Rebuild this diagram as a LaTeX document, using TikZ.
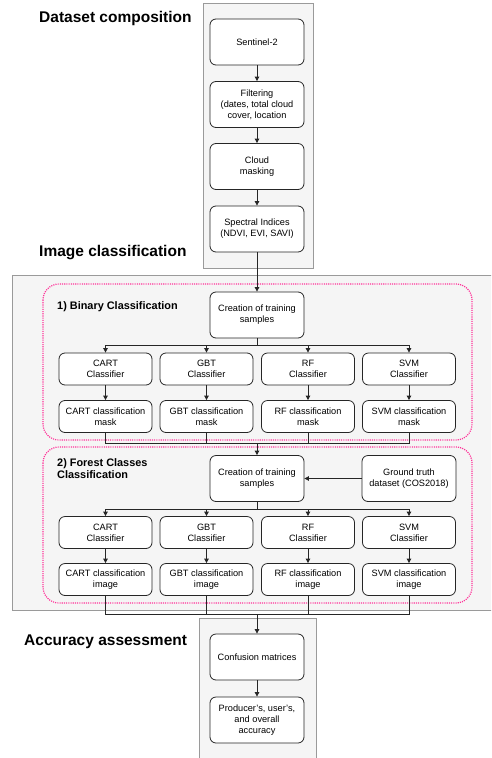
\documentclass[tikz,border=0pt]{standalone}
\usepackage{fontspec}
\setmainfont{Liberation Sans}
\usetikzlibrary{arrows.meta}
\definecolor{pinkdot}{HTML}{FF3399}
\definecolor{greyfill}{HTML}{F5F5F5}
\definecolor{greyline}{HTML}{9A9A9A}
\begin{document}
\begin{tikzpicture}[x=1pt,y=-1pt,
  proc/.style={draw=black!85, line width=0.8pt, rounded corners=6pt, fill=white, align=center, font=\fontsize{9.2}{11.2}\selectfont, inner sep=1pt},
  big/.style={proc, minimum width=94pt, minimum height=46pt},
  small/.style={proc, minimum width=93pt, minimum height=32pt},
  arr/.style={-{Triangle[length=4.5pt,width=4.5pt]}, line width=0.8pt, black!85},
  ln/.style={line width=0.8pt, black!85},
  title/.style={anchor=base west, font=\fontsize{15.5}{18}\selectfont\bfseries, inner sep=0pt},
  sub/.style={anchor=base west, align=left, font=\fontsize{10.9}{11.7}\selectfont\bfseries, inner sep=0pt},
  group/.style={draw=greyline, fill=greyfill, line width=0.8pt},
  pinkbox/.style={draw=pinkdot, line width=1.2pt, dash pattern=on 1.1pt off 1.1pt, rounded corners=16pt}
]
\useasboundingbox (0,0) rectangle (491,758);
\clip (0,0) rectangle (491,758);
% group backgrounds
\draw[group] (203,3) rectangle (313,268);
\draw[group] (12,275) rectangle (500,610);
\draw[group] (199,618) rectangle (316,775);
\draw[pinkbox] (43,284) rectangle (472,440);
\draw[pinkbox] (43,447) rectangle (472,603);
% titles
\node[title] (t1) at (39,22) {Dataset composition};
\node[title] (t2) at (39,256) {Image classification};
\node[title] (t3) at (24,645) {Accuracy assessment};
\node[sub] (s1) at (57,309) {1) Binary Classification};
\node[sub] (s2) at (57,478.3) {2) Forest Classes\\Classification};
% dataset composition
\node[big] (sent) at (257,42) {Sentinel-2};
\node[big] (filt) at (257,104.5) {Filtering\\(dates, total cloud\\cover, location};
\node[big] (cloud) at (257,166.5) {Cloud\\masking};
\node[big] (spec) at (257,229) {Spectral Indices\\(NDVI, EVI, SAVI)};
% binary classification
\node[big] (cts1) at (257,315) {Creation of training\\samples};
\node[small] (c1a) at (105.5,369) {CART\\Classifier};
\node[small] (c1b) at (206.5,369) {GBT\\Classifier};
\node[small] (c1c) at (308,369) {RF\\Classifier};
\node[small] (c1d) at (409,369) {SVM\\Classifier};
\node[small] (m1a) at (105.5,416.5) {CART classification\\mask};
\node[small] (m1b) at (206.5,416.5) {GBT classification\\mask};
\node[small] (m1c) at (308,416.5) {RF classification\\mask};
\node[small] (m1d) at (409,416.5) {SVM classification\\mask};
% forest classes classification
\node[big] (cts2) at (257,478.5) {Creation of training\\samples};
\node[big] (gt) at (409,478.5) {Ground truth\\dataset (COS2018)};
\node[small] (c2a) at (105.5,532.5) {CART\\Classifier};
\node[small] (c2b) at (206.5,532.5) {GBT\\Classifier};
\node[small] (c2c) at (308,532.5) {RF\\Classifier};
\node[small] (c2d) at (409,532.5) {SVM\\Classifier};
\node[small] (i2a) at (105.5,579.5) {CART classification\\image};
\node[small] (i2b) at (206.5,579.5) {GBT classification\\image};
\node[small] (i2c) at (308,579.5) {RF classification\\image};
\node[small] (i2d) at (409,579.5) {SVM classification\\image};
% accuracy
\node[big] (conf) at (257,657) {Confusion matrices};
\node[big] (prod) at (257,720) {Producer's, user's,\\and overall\\accuracy};
% connectors
\draw[arr] (sent) -- (filt);
\draw[arr] (filt) -- (cloud);
\draw[arr] (cloud) -- (spec);
\draw[arr] (spec) -- (cts1);
\coordinate (b1) at (257,345);
\foreach \n in {c1a,c1b,c1c,c1d} { \draw[arr] (cts1.south) |- (b1) -| (\n.north); }
\draw[arr] (c1a) -- (m1a);
\draw[arr] (c1b) -- (m1b);
\draw[arr] (c1c) -- (m1c);
\draw[arr] (c1d) -- (m1d);
\coordinate (j1) at (257,443);
\foreach \n in {m1a,m1b,m1c,m1d} { \draw[ln] (\n.south) |- (j1); }
\draw[arr] (j1) -- (cts2.north);
\draw[arr] (gt) -- (cts2);
\coordinate (b2) at (257,509);
\foreach \n in {c2a,c2b,c2c,c2d} { \draw[arr] (cts2.south) |- (b2) -| (\n.north); }
\draw[arr] (c2a) -- (i2a);
\draw[arr] (c2b) -- (i2b);
\draw[arr] (c2c) -- (i2c);
\draw[arr] (c2d) -- (i2d);
\coordinate (j2) at (257,614);
\foreach \n in {i2a,i2b,i2c,i2d} { \draw[ln] (\n.south) |- (j2); }
\draw[arr] (j2) -- (conf.north);
\draw[arr] (conf) -- (prod);
\end{tikzpicture}
\end{document}
